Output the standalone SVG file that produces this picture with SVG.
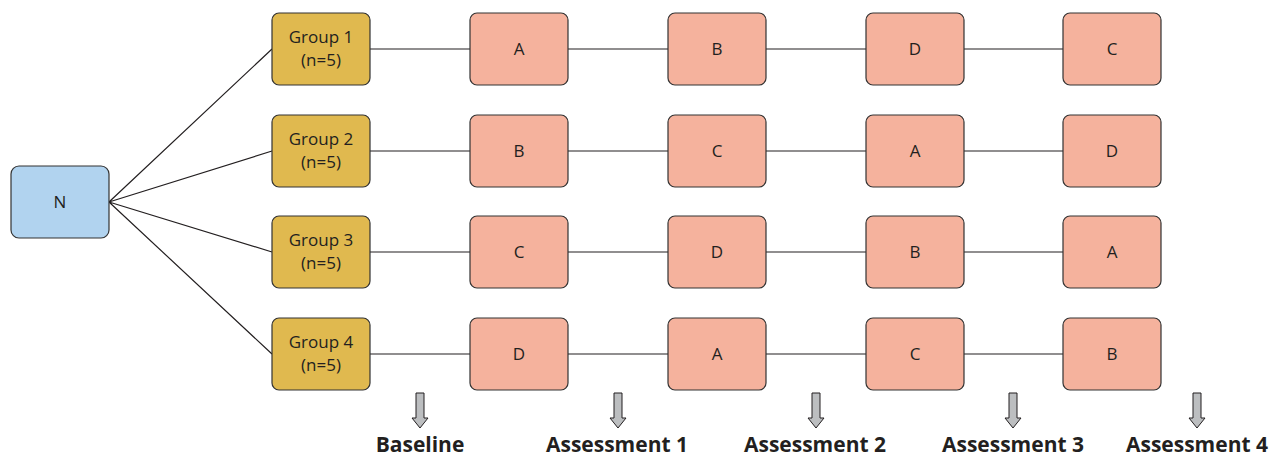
<svg xmlns="http://www.w3.org/2000/svg" width="1270" height="456" viewBox="0 0 1270 456">
<style>
.n{fill:#b1d3ef;stroke:#333;stroke-width:1.2}
.g{fill:#e0b94f;stroke:#333;stroke-width:1.2}
.p{fill:#f5b29d;stroke:#333;stroke-width:1.2}
.t{font-family:"Open Sans","Liberation Sans",sans-serif;font-size:17px;fill:#231f20;text-anchor:middle}
.l{font-family:"Open Sans","Liberation Sans",sans-serif;font-size:21px;font-weight:bold;fill:#231f20;text-anchor:middle}
.c{stroke:#231f20;stroke-width:1.2;fill:none}
.a{fill:#bcbec0;stroke:#231f20;stroke-width:1}
</style>
<g id="connectors">
<path class="c" d="M109,202 L272,49 M109,202 L272,151 M109,202 L272,252 M109,202 L272,354"/>
<path class="c" d="M370,49 H470 M568,49 H668 M766,49 H866 M964,49 H1063"/>
<path class="c" d="M370,151 H470 M568,151 H668 M766,151 H866 M964,151 H1063"/>
<path class="c" d="M370,252 H470 M568,252 H668 M766,252 H866 M964,252 H1063"/>
<path class="c" d="M370,354 H470 M568,354 H668 M766,354 H866 M964,354 H1063"/>
</g>
<g id="N"><rect class="n" x="11" y="166" width="98" height="72" rx="8"/><text class="t" x="60" y="208">N</text></g>
<g id="group1"><rect class="g" x="272" y="13" width="98" height="72" rx="7"/><text class="t" x="321" y="43">Group 1</text><text class="t" x="321" y="66">(n=5)</text></g>
<g id="group2"><rect class="g" x="272" y="115" width="98" height="72" rx="7"/><text class="t" x="321" y="145">Group 2</text><text class="t" x="321" y="168">(n=5)</text></g>
<g id="group3"><rect class="g" x="272" y="216" width="98" height="72" rx="7"/><text class="t" x="321" y="246">Group 3</text><text class="t" x="321" y="269">(n=5)</text></g>
<g id="group4"><rect class="g" x="272" y="318" width="98" height="72" rx="7"/><text class="t" x="321" y="348">Group 4</text><text class="t" x="321" y="371">(n=5)</text></g>
<g id="r1a"><rect class="p" x="470" y="13" width="98" height="72" rx="7"/><text class="t" x="519" y="55">A</text></g>
<g id="r1b"><rect class="p" x="668" y="13" width="98" height="72" rx="7"/><text class="t" x="717" y="55">B</text></g>
<g id="r1c"><rect class="p" x="866" y="13" width="98" height="72" rx="7"/><text class="t" x="915" y="55">D</text></g>
<g id="r1d"><rect class="p" x="1063" y="13" width="98" height="72" rx="7"/><text class="t" x="1112" y="55">C</text></g>
<g id="r2a"><rect class="p" x="470" y="115" width="98" height="72" rx="7"/><text class="t" x="519" y="157">B</text></g>
<g id="r2b"><rect class="p" x="668" y="115" width="98" height="72" rx="7"/><text class="t" x="717" y="157">C</text></g>
<g id="r2c"><rect class="p" x="866" y="115" width="98" height="72" rx="7"/><text class="t" x="915" y="157">A</text></g>
<g id="r2d"><rect class="p" x="1063" y="115" width="98" height="72" rx="7"/><text class="t" x="1112" y="157">D</text></g>
<g id="r3a"><rect class="p" x="470" y="216" width="98" height="72" rx="7"/><text class="t" x="519" y="258">C</text></g>
<g id="r3b"><rect class="p" x="668" y="216" width="98" height="72" rx="7"/><text class="t" x="717" y="258">D</text></g>
<g id="r3c"><rect class="p" x="866" y="216" width="98" height="72" rx="7"/><text class="t" x="915" y="258">B</text></g>
<g id="r3d"><rect class="p" x="1063" y="216" width="98" height="72" rx="7"/><text class="t" x="1112" y="258">A</text></g>
<g id="r4a"><rect class="p" x="470" y="318" width="98" height="72" rx="7"/><text class="t" x="519" y="360">D</text></g>
<g id="r4b"><rect class="p" x="668" y="318" width="98" height="72" rx="7"/><text class="t" x="717" y="360">A</text></g>
<g id="r4c"><rect class="p" x="866" y="318" width="98" height="72" rx="7"/><text class="t" x="915" y="360">C</text></g>
<g id="r4d"><rect class="p" x="1063" y="318" width="98" height="72" rx="7"/><text class="t" x="1112" y="360">B</text></g>
<g id="timeline">
<path class="a" d="M416,393 H424 V418 H428 L420,428 L412,418 H416 Z"/>
<path class="a" d="M614,393 H622 V418 H626 L618,428 L610,418 H614 Z"/>
<path class="a" d="M812,393 H820 V418 H824 L816,428 L808,418 H812 Z"/>
<path class="a" d="M1009,393 H1017 V418 H1021 L1013,428 L1005,418 H1009 Z"/>
<path class="a" d="M1193,393 H1201 V418 H1205 L1197,428 L1189,418 H1193 Z"/>
<text class="l" x="420" y="452">Baseline</text>
<text class="l" x="617" y="452">Assessment 1</text>
<text class="l" x="815" y="452">Assessment 2</text>
<text class="l" x="1013" y="452">Assessment 3</text>
<text class="l" x="1197" y="452">Assessment 4</text>
</g>
</svg>
